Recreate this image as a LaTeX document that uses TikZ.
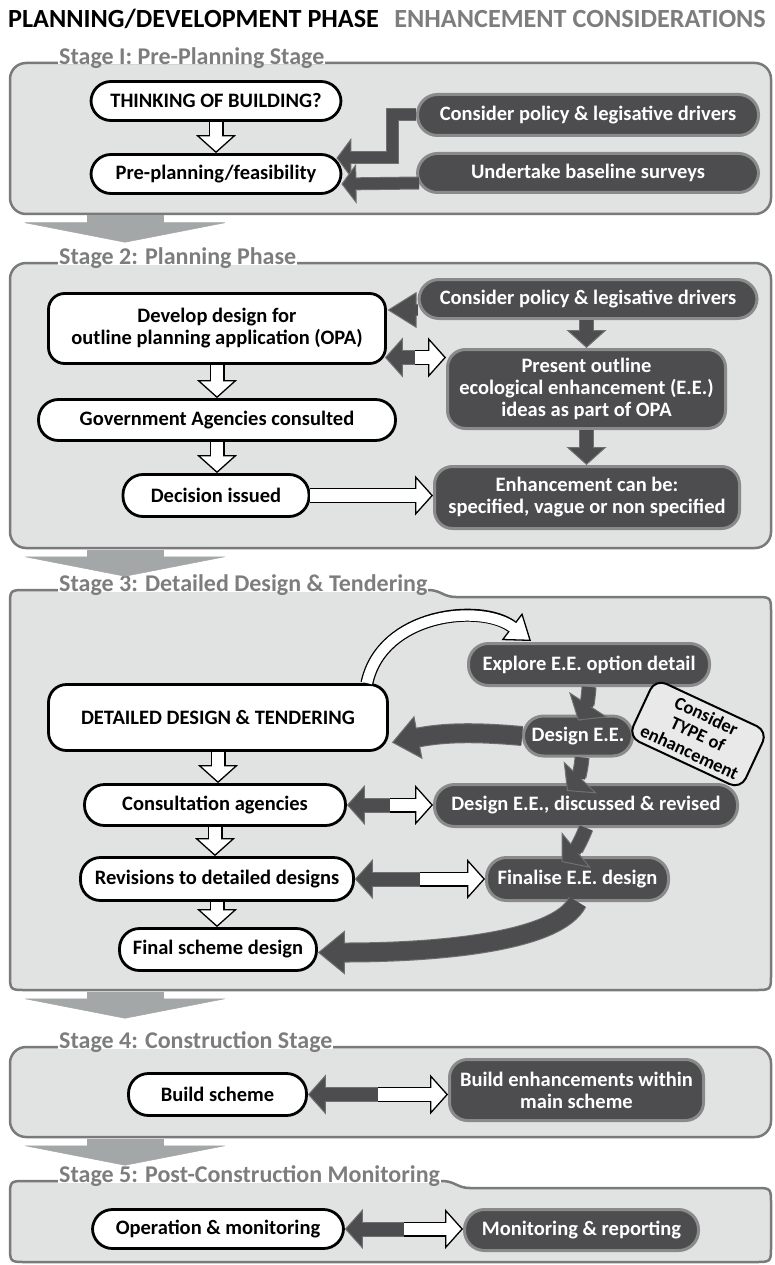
\documentclass[tikz,border=0pt]{standalone}
\usepackage{fontspec}
\setmainfont{Carlito}
\usetikzlibrary{arrows.meta,calc,positioning}
\definecolor{panelgray}{RGB}{225,226,226}
\definecolor{paneledge}{RGB}{122,122,122}
\definecolor{boxdark}{RGB}{77,77,80}
\definecolor{boxedge}{RGB}{138,138,138}
\definecolor{arrowedge}{RGB}{112,112,112}
\definecolor{stagegray}{RGB}{125,125,125}
\definecolor{stepgray}{RGB}{164,167,167}
\definecolor{typegray}{RGB}{233,233,233}
\tikzset{
  panel/.style={draw=paneledge, line width=2.5pt, fill=panelgray, rounded corners=16pt},
  tabpanel/.style={draw=paneledge, line width=2.5pt, fill=panelgray},
  stagelab/.style={anchor=base west, fill=white, inner sep=0pt, inner xsep=1pt, text depth=0pt,
    text=stagegray, font=\fontsize{24}{28}\selectfont\bfseries},
  wbox/.style={draw=black, line width=2.8pt, fill=white, rounded corners=20pt, align=center,
    inner sep=2pt, font=\fontsize{20.5}{22}\selectfont\bfseries},
  dbox/.style={draw=boxedge, line width=3pt, fill=boxdark, text=white, rounded corners=20pt,
    align=center, inner sep=2pt, font=\fontsize{20.5}{22}\selectfont\bfseries},
  typebox/.style={draw=black, line width=2pt, fill=typegray, rounded corners=12pt, align=center,
    inner sep=1pt, minimum width=124pt, minimum height=64pt, font=\fontsize{18.5}{20}\selectfont\bfseries},
  % block arrows: outline stroke first, then the fill colour on top of the shaft
  wblock/.style={draw=black, line width=15pt, -{Triangle[length=18pt,width=40pt,fill=white,line width=1.3pt]},
    postaction={draw=white, line width=12.4pt, -, shorten >=16pt}},
  wcurve/.style={draw=black, line width=13pt, -{Triangle[length=24pt,width=34pt,fill=white,line width=1.3pt]},
    postaction={draw=white, line width=10.4pt, -, shorten >=22pt}},
  dblock/.style={draw=arrowedge, line width=15pt, -{Triangle[length=18pt,width=40pt,fill=boxdark,line width=1pt]},
    postaction={draw=boxdark, line width=13pt, -, shorten >=16pt}},
  dstep/.style={draw=arrowedge, line width=13pt, -{Triangle[length=15pt,width=40pt,fill=boxdark,line width=1pt]},
    postaction={draw=boxdark, line width=11pt, -, shorten >=13pt}},
  dhead/.style={draw=arrowedge, line width=12pt, -{Triangle[length=29pt,width=36pt,fill=boxdark,line width=1pt]},
    postaction={draw=boxdark, line width=10pt, -, shorten >=27pt}},
  dcurve/.style={draw=arrowedge, line width=15pt, -{Triangle[length=19pt,width=46pt,fill=boxdark,line width=1pt]},
    postaction={draw=boxdark, line width=13pt, -, shorten >=17pt}},
  dbig/.style={draw=arrowedge, line width=20pt, -{Triangle[length=27pt,width=44pt,fill=boxdark,line width=1pt]},
    postaction={draw=boxdark, line width=18pt, -, shorten >=25pt}},
  garrow/.style={draw=stepgray, line width=77pt, -{Triangle[length=20pt,width=205pt,fill=stepgray,line width=0.5pt]}},
}
\begin{document}
\begin{tikzpicture}[x=1pt, y=-1pt]
  \useasboundingbox (0,0) rectangle (774,1265);
  % column headings
  \node[anchor=base west, inner sep=0pt, font=\fontsize{26.2}{28}\selectfont\bfseries] (phase) at (8,28) {PLANNING/DEVELOPMENT PHASE};
  \node[anchor=base east, inner sep=0pt, text=stagegray, font=\fontsize{26.2}{28}\selectfont\bfseries] (consid) at (766,28) {ENHANCEMENT CONSIDERATIONS};

  % stage panels (3 and 5 step down after the label)
  \draw[panel] (10,63) rectangle (771,214);
  \draw[panel] (10,263) rectangle (771,548);
  \draw[tabpanel] (390,990) -- (26,990) .. controls (10,990) .. (10,974) -- (10,606) .. controls (10,590) .. (26,590)
    -- (428,590) .. controls (441,590) and (443,597) .. (456,597) -- (755,597) .. controls (771,597) .. (771,613)
    -- (771,974) .. controls (771,990) .. (755,990) -- cycle;
  \draw[panel] (10,1047) rectangle (771,1137);
  \draw[tabpanel] (390,1262) -- (26,1262) .. controls (10,1262) .. (10,1246) -- (10,1197) .. controls (10,1181) .. (26,1181)
    -- (442,1181) .. controls (455,1181) and (457,1188) .. (470,1188) -- (755,1188) .. controls (771,1188) .. (771,1204)
    -- (771,1246) .. controls (771,1262) .. (755,1262) -- cycle;
  \node[stagelab] (s1) at (58,64.5) {Stage I: Pre-Planning Stage};
  \node[stagelab] (s2) at (58,264.5) {Stage 2: Planning Phase};
  \node[stagelab] (s3) at (58,591.5) {Stage 3: Detailed Design \& Tendering};
  \node[stagelab] (s4) at (58,1048.5) {Stage 4: Construction Stage};
  \node[stagelab] (s5) at (58,1182.5) {Stage 5: Post-Construction Monitoring};

  % grey arrows from one stage to the next
  \coordinate (p1) at (125,215.5);
  \coordinate (p2) at (125,549.5);
  \coordinate (p3) at (125,991.5);
  \coordinate (p4) at (125,1138.5);
  \foreach \p in {p1,p2,p3,p4}
    \draw[garrow] (\p) -- ++(0,27);

  % Stage 1
  \node[wbox, minimum width=250pt, minimum height=39pt] (think) at (216,101) {THINKING OF BUILDING?};
  \node[wbox, minimum width=250pt, minimum height=39pt] (pre) at (216,174) {Pre-planning/feasibility};
  \node[dbox, minimum width=341pt, minimum height=41pt] (pol1) at (588,115) {Consider policy \& legisative drivers};
  \node[dbox, minimum width=341pt, minimum height=39pt] (base) at (588,173) {Undertake baseline surveys};

  % Stage 2
  \node[wbox, rounded corners=16pt, minimum width=337pt, minimum height=70pt] (dev) at (217,328.5) {Develop design for\\outline planning application (OPA)};
  \node[dbox, minimum width=338pt, minimum height=39pt] (pol2) at (588,299) {Consider policy \& legisative drivers};
  \node[dbox, rounded corners=18pt, minimum width=278pt, minimum height=79pt] (pres) at (586.5,389) {Present outline\\ecological enhancement (E.E.)\\ideas as part of OPA};
  \node[wbox, minimum width=357pt, minimum height=41pt] (gov) at (217,420) {Government Agencies consulted};
  \node[wbox, minimum width=186pt, minimum height=42pt] (dec) at (216,495.5) {Decision issued};
  \node[dbox, rounded corners=18pt, minimum width=305pt, minimum height=62pt] (spec) at (587,497.5) {Enhancement can be:\\specified, vague or non specified};

  % Stage 3
  \node[dbox, minimum width=241pt, minimum height=42pt] (expl) at (589,664.5) {Explore E.E. option detail};
  \node[wbox, rounded corners=18pt, minimum width=339pt, minimum height=66pt] (det) at (218,717.5) {DETAILED DESIGN \& TENDERING};
  \node[dbox, minimum width=109pt, minimum height=40pt] (dee) at (578,736) {Design E.E.};
  \node[dbox, minimum width=303pt, minimum height=42pt] (disc) at (586,805.5) {Design E.E., discussed \& revised};
  \node[wbox, minimum width=261pt, minimum height=41pt] (cons) at (215,805) {Consultation agencies};
  \node[wbox, minimum width=273pt, minimum height=43pt] (rev) at (217,879) {Revisions to detailed designs};
  \node[dbox, minimum width=182pt, minimum height=43pt] (fin) at (577.5,879) {Finalise E.E. design};
  \node[wbox, minimum width=197pt, minimum height=42pt] (final) at (218,949.5) {Final scheme design};

  % Stage 4
  \node[wbox, minimum width=178pt, minimum height=42pt] (bs) at (217.5,1094.5) {Build scheme};
  \node[dbox, rounded corners=18pt, minimum width=254pt, minimum height=61pt] (be) at (576.5,1090) {Build enhancements within\\main scheme};

  % Stage 5
  \node[wbox, minimum width=251pt, minimum height=39pt] (op) at (218,1229) {Operation \& monitoring};
  \node[dbox, minimum width=234pt, minimum height=41pt] (mon) at (581.5,1230) {Monitoring \& reporting};

  % white downward steps in the left column
  \foreach \a/\b in {think/pre, dev/gov, gov/dec, det/cons, cons/rev, rev/final}
    \draw[wblock] (\a.south) -- (\a.south |- \b.north);

  % Stage 1 connectors
  \draw[dstep] (pol1.west) -- ++(-24,0) |- ($(pre.east)+(-6,-16)$);
  \draw[dstep] ($(base.west)+(3,10)$) -- ($(pre.east)+(-1,10)$);

  % Stage 2 connectors
  \draw[dhead] ($(pol2.west)+(0,11)$) -- ++(-30,0);
  \draw[dblock] (pres.north |- pol2.south) -- (pres.north);
  \draw[dblock] (pres.south) -- (pres.south |- spec.north);
  \draw[wblock] (dec.east) -- (dec.east -| spec.west);
  \coordinate (dpL) at ($(dev.east)+(-2,29)$);
  \coordinate (dpR) at (dpL -| pres.west);
  \coordinate (dpM) at ($(dpL)!0.5!(dpR)$);
  \draw[dblock] (dpM) -- (dpL);
  \draw[wblock] (dpM) -- (dpR);

  % Stage 3 connectors
  \draw[wcurve] ([xshift=-22pt]det.north east) .. controls +(15,-70) and +(-50,-38) .. ($(expl.north west)+(64,-1)$);
  \draw[dcurve] (expl.south) to[bend left=15] ($(dee.north)+(0,6)$);
  \draw[dbig] (dee.west) to[bend right=8] ($(det.east)+(3,25)$);
  \draw[dcurve] ($(dee.south)+(4,0)$) to[bend left=20] ($(dee.south |- disc.north)+(-11,8)$);
  \draw[dcurve] (disc.south) to[bend left=15] ($(fin.north)+(-16,6)$);
  \draw[dbig] (fin.south) .. controls +(-20,40) and +(120,0) .. ($(final.east)+(0,3)$);

  % two-way links: dark half back to the plan, white half on to the enhancement
  \foreach \a/\b in {cons/disc, rev/fin, bs/be, op/mon} {
    \coordinate (mid) at ($(\a.east)!0.5!(\a.east -| \b.west)$);
    \draw[dblock] (mid) -- (\a.east);
    \draw[wblock] (mid) -- (mid -| \b.west);
  }

  \node[typebox, rotate=-25] (type) at (698,734) {Consider\\TYPE of\\enhancement};
\end{tikzpicture}
\end{document}
